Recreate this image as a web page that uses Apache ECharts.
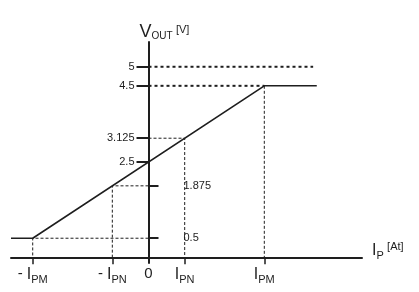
<!DOCTYPE html>
<html>
<head>
<meta charset="utf-8">
<script src="https://cdn.jsdelivr.net/npm/echarts@6/dist/echarts.min.js"></script>
<style>
html,body{margin:0;padding:0;background:#fff;}
#chart{width:419px;height:292px;}
</style>
</head>
<body>
<div id="chart"></div>
<script>
// ---- data (x in units of I_PN, y in volts) ----
const xTickValues = [-3.2, -1, 0, 1, 3.2];
const xTickLabels = ['-I_PM', '-I_PN', '0', 'I_PN', 'I_PM'];
const yTicksLeft = [5, 4.5, 3.125, 2.5];
const yTicksRight = [1.875, 0.5];
// output characteristic
const curveX = [-3.8, -3.2, 3.2, 4.65];
const curveY = [0.5, 0.5, 4.5, 4.5];
// guide lines
const guide5X = [0, 4.55];
const guide5Y = [5, 5];
const guide45X = [0, 3.2];
const guide45Y = [4.5, 4.5];
const guideIpmX = [3.2, 3.2];
const guideIpmY = [4.5, 0];
const guideIpnX = [0, 1, 1];
const guideIpnY = [3.125, 3.125, 0];
const guideNegIpnX = [0, -1, -1];
const guideNegIpnY = [1.875, 1.875, 0];
const guideNegIpmX = [0, -3.2, -3.2];
const guideNegIpmY = [0.5, 0.5, 0];

// axis ranges
const xMin = -3.8, xMax = 5.9;
const yMin = -0.15, yMax = 5.65;

const zip = (xs, ys) => xs.map((x, i) => [x, ys[i]]);
const INK = '#1e1e1e';
const FONT = 'Liberation Sans, Arial, sans-serif';

const W = 419, H = 292;
const G = {left: 11, right: 57, top: 42, bottom: 29};
const gridW = W - G.left - G.right, gridH = H - G.top - G.bottom;
// place the axes through the origin (shift from the grid edges)
const leftAxisOffset = -(0 - xMin) / (xMax - xMin) * gridW;
const rightAxisOffset = -(xMax - 0) / (xMax - xMin) * gridW;
const xAxisOffset = -(0 - yMin) / (yMax - yMin) * gridH;

function xLabel(v) {
  const i = xTickValues.indexOf(v);
  if (i < 0) return '';
  const t = xTickLabels[i];
  if (t === '0') return '{z|0}';
  const neg = t[0] === '-';
  const body = neg ? t.slice(1) : t;
  const [main, sub] = body.split('_');
  return (neg ? '{n|- }' : '') + '{i|' + main + '}{s|' + sub + '}';
}

const chart = echarts.init(document.getElementById('chart'), null, {renderer: 'canvas'});
const thin = {color: INK, width: 1, type: [3, 2]};
const thick = {color: INK, width: 2, type: [3, 3]};
function guide(xs, ys, style) {
  return {type: 'line', data: zip(xs, ys), symbol: 'none', lineStyle: style, silent: true, z: 1};
}
const txt = (size, lh, pad) => ({fontSize: size, fontFamily: FONT, color: INK, lineHeight: lh, padding: pad || 0});

chart.setOption({
  animation: false,
  backgroundColor: '#fff',
  textStyle: {fontFamily: FONT, color: INK},
  grid: Object.assign({containLabel: false, outerBoundsMode: 'none'}, G),
  xAxis: {
    type: 'value', min: xMin, max: xMax, position: 'bottom', offset: xAxisOffset,
    axisLine: {onZero: false, lineStyle: {color: INK, width: 2}},
    axisTick: {show: true, customValues: [-3.2, -1, 1, 3.2], length: 7, lineStyle: {color: INK, width: 1.5}},
    splitLine: {show: false},
    axisLabel: {
      customValues: xTickValues, margin: 9, formatter: xLabel,
      rich: {
        n: txt(15, 16),
        i: txt(16, 16),
        s: txt(11, 11, [11, 0, 0, 0]),
        z: txt(15, 16)
      }
    },
    name: '{i|I}{s|P} {u|[At]}',
    nameLocation: 'end', nameGap: 10,
    nameTextStyle: {
      padding: [0, 0, 14, 0],
      rich: {
        i: txt(16, 16),
        s: txt(11, 11, [12, 0, 0, 0]),
        u: txt(11, 11, [0, 0, 6, 0])
      }
    }
  },
  yAxis: [{
    type: 'value', min: yMin, max: yMax, position: 'left', offset: leftAxisOffset,
    axisLine: {onZero: false, lineStyle: {color: INK, width: 2}},
    axisTick: {show: true, customValues: yTicksLeft, length: 12, lineStyle: {color: INK, width: 2}},
    splitLine: {show: false},
    axisLabel: {customValues: yTicksLeft, margin: 14, fontSize: 11, color: INK, fontFamily: FONT},
    name: '{v|V}{s|OUT} {u|[V]}',
    nameLocation: 'end', nameGap: 1,
    nameTextStyle: {
      align: 'left', padding: [0, 0, 0, -9],
      rich: {
        v: txt(18, 18),
        s: txt(10, 10, [8, 0, 0, 0]),
        u: txt(11, 11, [0, 0, 4, 0])
      }
    }
  }, {
    type: 'value', min: yMin, max: yMax, position: 'right', offset: rightAxisOffset,
    axisLine: {show: false, onZero: false},
    axisTick: {show: true, customValues: yTicksRight, length: 10, lineStyle: {color: INK, width: 2}},
    splitLine: {show: false},
    axisLabel: {customValues: yTicksRight, margin: 35, fontSize: 11, color: INK, fontFamily: FONT}
  }],
  series: [
    guide(guide5X, guide5Y, thick),
    guide(guide45X, guide45Y, thick),
    guide(guideIpmX, guideIpmY, thin),
    guide(guideIpnX, guideIpnY, thin),
    guide(guideNegIpnX, guideNegIpnY, thin),
    guide(guideNegIpmX, guideNegIpmY, thin),
    {type: 'line', data: zip(curveX, curveY), symbol: 'none', z: 3,
     lineStyle: {color: INK, width: 1.6}}
  ]
});
</script>
</body>
</html>
